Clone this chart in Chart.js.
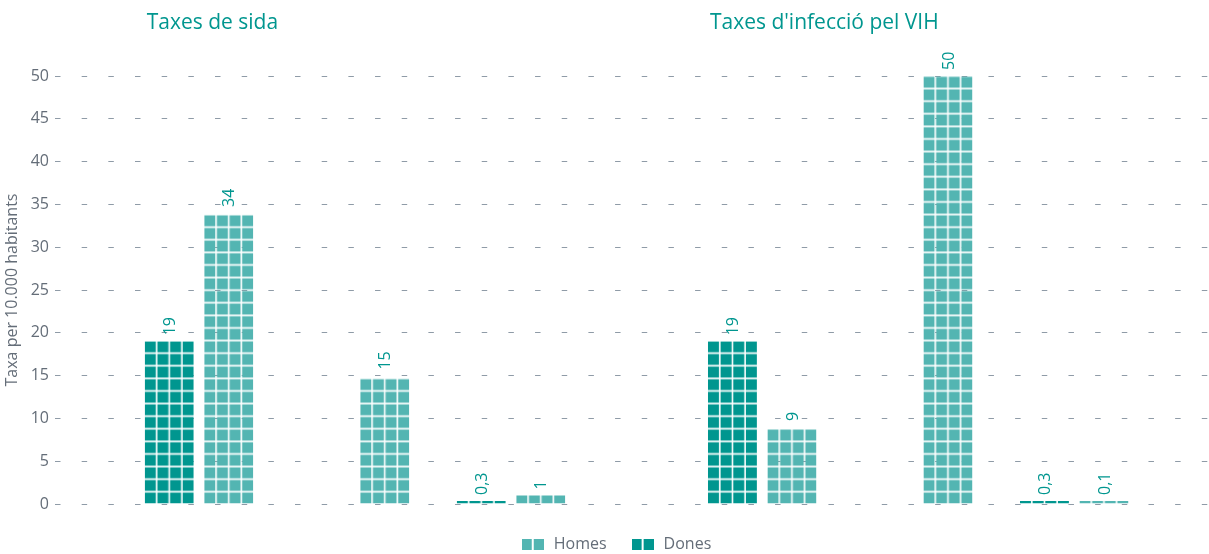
<!DOCTYPE html>
<html>
<head>
<meta charset="utf-8">
<title>Taxes de sida i d'infecció pel VIH</title>
<script src="https://cdn.jsdelivr.net/npm/chart.js@4/dist/chart.umd.min.js"></script>
<style>
  html, body { margin: 0; padding: 0; background: #ffffff; overflow: hidden; }
  canvas { display: block; }
</style>
</head>
<body>
<canvas id="chart" width="1209" height="554"></canvas>
<script>
// Categories shared by both panels
const categories = ['UDI', 'HMS', 'HTS'];
const panelTitles = ['Taxes de sida', "Taxes d'infecció pel VIH"];
const seriesNames = ['Dones', 'Homes'];

// Rates per 10.000 inhabitants
const donesSida = [19, null, 0.3];
const homesSida = [34, 15, 1];
const donesVih = [19, null, 0.3];
const homesVih = [9, 50, 0.1];

const yTicks = [0, 5, 10, 15, 20, 25, 30, 35, 40, 45, 50];

// Styling
const TEAL_DARK = '#00968f';
const TEAL_LIGHT = '#53b5b2';
const LABEL_COLOR = '#00968f';
const TEXT_GREY = '#646d78';
const GRID_GREY = '#8f9ba7';
const FONT = "'Open Sans', 'Noto Sans', sans-serif";

// Horizontal layout of the two panels on a shared linear axis
const PANEL_SHIFT = 3.61;
const X_MIN = -0.923;
const X_MAX = 6.474;
const catPos = (panel, i) => i + panel * PANEL_SHIFT;
const tickPositions = [0, 1].flatMap(p => categories.map((_, i) => catPos(p, i)));
const tickLabels = [0, 1].flatMap(() => categories);

const toPoints = (sida, vih) => [
  ...sida.map((v, i) => ({ x: catPos(0, i), y: v })),
  ...vih.map((v, i) => ({ x: catPos(1, i), y: v }))
];

// Tiled bar fill: four columns of small squares, rows stacked up from the baseline
const ROW = 12.6, GAP_X = 1.6, GAP_Y = 1.7, COLS = 4, MIN_SLIVER = 2.5;
function tileFill(ctx, color, left, base, width, height) {
  const H = Math.ceil(base) + 2;
  const W = Math.ceil(width) + 2;
  const c = document.createElement('canvas');
  c.width = W; c.height = H;
  const g = c.getContext('2d');
  g.fillStyle = color;
  const px = (width + GAP_X) / COLS;
  const fw = px - GAP_X;
  const full = Math.floor(height / ROW);
  const rows = (height - full * ROW) >= MIN_SLIVER ? full + 1 : full;
  for (let r = 0; r < rows; r++) {
    const yb = H - r * ROW;
    const yt = yb - ROW + GAP_Y;
    for (let k = 0; k < COLS; k++) g.fillRect(k * px, yt, fw, yb - yt);
  }
  const pat = ctx.createPattern(c, 'no-repeat');
  pat.setTransform(new DOMMatrix().translate(left, base - H));
  return pat;
}

function legendSwatch(color) {
  const c = document.createElement('canvas');
  c.width = 22; c.height = 11;
  const g = c.getContext('2d');
  g.fillStyle = color;
  g.fillRect(0, 0, 10, 11);
  g.fillRect(12, 0, 10, 11);
  return c;
}
const swatches = [legendSwatch(TEAL_DARK), legendSwatch(TEAL_LIGHT)];

const tilePlugin = {
  id: 'tiles',
  beforeDatasetDraw(chart, args) {
    const meta = args.meta;
    const color = chart.data.datasets[args.index].tileColor;
    meta.data.forEach(el => {
      if (!el.options || !isFinite(el.y) || !isFinite(el.base)) return;
      el.options.backgroundColor = tileFill(chart.ctx, color, el.x - el.width / 2, el.base, el.width, el.base - el.y);
    });
  }
};

const valueLabels = {
  id: 'valueLabels',
  afterDatasetsDraw(chart) {
    const ctx = chart.ctx;
    chart.data.datasets.forEach((ds, di) => {
      const meta = chart.getDatasetMeta(di);
      meta.data.forEach((el, i) => {
        const v = ds.data[i].y;
        if (v === null || v === undefined) return;
        ctx.save();
        ctx.translate(el.x, Math.min(el.y, el.base) - 6);
        ctx.rotate(-Math.PI / 2);
        ctx.font = '16px ' + FONT;
        ctx.fillStyle = LABEL_COLOR;
        ctx.textAlign = 'left';
        ctx.textBaseline = 'middle';
        ctx.fillText(String(v).replace('.', ','), 0, 1);
        ctx.restore();
      });
    });
  }
};

const panelTitlePlugin = {
  id: 'panelTitles',
  afterDraw(chart) {
    const ctx = chart.ctx;
    const meta = chart.getDatasetMeta(0);
    ctx.save();
    ctx.font = '21px ' + FONT;
    ctx.fillStyle = TEAL_DARK;
    ctx.textAlign = 'left';
    ctx.textBaseline = 'alphabetic';
    panelTitles.forEach((t, p) => {
      const el = meta.data[p * categories.length];
      ctx.fillText(t, el.x - el.width / 2 + 2, 28.5);
    });
    ctx.restore();
  }
};

// Nudges the centred legend row to sit under the plot body
const LEGEND_SHIFT = 11;
const legendOffset = {
  id: 'legendOffset',
  afterLayout(chart) {
    if (chart.legend) {
      chart.legend.left += LEGEND_SHIFT;
      chart.legend.right += LEGEND_SHIFT;
    }
  }
};

const LEGEND_PAD = 23;
const LEGEND_H = LEGEND_PAD + 17.5;

new Chart(document.getElementById('chart'), {
  type: 'bar',
  data: {
    datasets: [
      {
        label: seriesNames[0],
        data: toPoints(donesSida, donesVih),
        tileColor: TEAL_DARK,
        backgroundColor: ctx => ctx.dataset.tileColor,
        borderWidth: 0
      },
      {
        label: seriesNames[1],
        data: toPoints(homesSida, homesVih),
        tileColor: TEAL_LIGHT,
        backgroundColor: ctx => ctx.dataset.tileColor,
        borderWidth: 0
      }
    ]
  },
  options: {
    responsive: false,
    animation: false,
    events: [],
    devicePixelRatio: 1,
    categoryPercentage: 0.763,
    barPercentage: 0.824,
    minBarLength: 3,
    layout: { padding: { top: 76, left: 0, right: 0, bottom: 0 } },
    font: { family: FONT },
    scales: {
      x: {
        type: 'linear',
        min: X_MIN,
        max: X_MAX,
        offset: false,
        grid: { display: false },
        border: { display: false },
        afterBuildTicks: scale => { scale.ticks = tickPositions.map(value => ({ value })); },
        afterFit: scale => { scale.height = 50 - LEGEND_H; },
        ticks: {
          autoSkip: false,
          maxRotation: 0,
          padding: 8,
          color: TEXT_GREY,
          font: { family: FONT, size: 15 },
          callback: (value, index) => tickLabels[index]
        }
      },
      y: {
        min: 0,
        max: 50,
        afterBuildTicks: scale => { scale.ticks = yTicks.map(value => ({ value })); },
        afterFit: scale => { scale.width = 55; },
        grid: { color: GRID_GREY, lineWidth: 1, drawTicks: false },
        border: { display: false, dash: [5.5, 21.17] },
        ticks: {
          padding: 6,
          color: TEXT_GREY,
          font: { family: FONT, size: 16 }
        },
        title: {
          display: true,
          text: 'Taxa per 10.000 habitants',
          color: TEXT_GREY,
          font: { family: FONT, size: 16 },
          padding: { top: 3, bottom: 0 }
        }
      }
    },
    plugins: {
      tooltip: { enabled: false },
      legend: {
        position: 'bottom',
        reverse: true,
        maxHeight: LEGEND_H,
        labels: {
          usePointStyle: true,
          pointStyleWidth: 26,
          boxHeight: 11,
          padding: LEGEND_PAD,
          color: TEXT_GREY,
          font: { family: FONT, size: 16 },
          generateLabels: chart => Chart.defaults.plugins.legend.labels.generateLabels(chart)
            .map(item => Object.assign(item, { pointStyle: swatches[item.datasetIndex] }))
        }
      }
    }
  },
  plugins: [tilePlugin, valueLabels, panelTitlePlugin, legendOffset]
});
</script>
</body>
</html>
